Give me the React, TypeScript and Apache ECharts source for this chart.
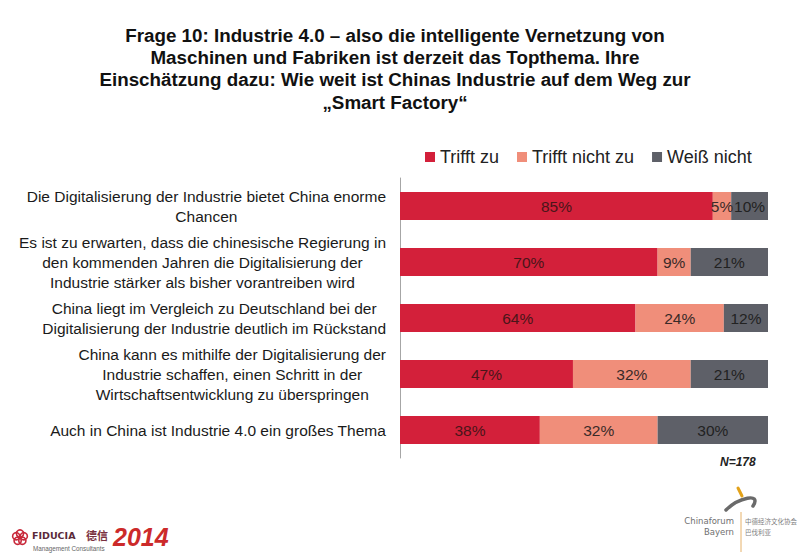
import React, { useEffect, useRef } from "react";
import * as echarts from "echarts";

const TITLE_LINES = [
  "Frage 10: Industrie 4.0 – also die intelligente Vernetzung von",
  "Maschinen und Fabriken ist derzeit das Topthema. Ihre",
  "Einschätzung dazu: Wie weit ist Chinas Industrie auf dem Weg zur",
  "„Smart Factory“",
];

const categories = [
  "Die Digitalisierung der Industrie bietet China enorme\nChancen",
  "Es ist zu erwarten, dass die chinesische Regierung in\nden kommenden Jahren die Digitalisierung der\nIndustrie stärker als bisher vorantreiben wird",
  "China liegt im Vergleich zu Deutschland bei der\nDigitalisierung der Industrie deutlich im Rückstand",
  "China kann es mithilfe der Digitalisierung der\nIndustrie schaffen, einen Schritt in der\nWirtschaftsentwicklung zu überspringen",
  "Auch in China ist Industrie 4.0 ein großes Thema",
];

const seriesNames = ["Trifft zu", "Trifft nicht zu", "Weiß nicht"];
const trifftZu = [85, 70, 64, 47, 38];
const trifftNichtZu = [5, 9, 24, 32, 32];
const weissNicht = [10, 21, 12, 21, 30];

const sampleNote = "N=178";

const FONT = "'Liberation Sans', Arial, Helvetica, sans-serif";
const COLORS = ["#D3203A", "#F08E7A", "#5E6068"];
const LABEL_COLORS = ["#4a1519", "#3a2a28", "#222222"];

export default function App() {
  const ref = useRef<HTMLDivElement>(null);

  useEffect(() => {
    document.body.style.margin = "0";
    const chart = echarts.init(ref.current!, null, { renderer: "svg" });

    const values = [trifftZu, trifftNichtZu, weissNicht];

    const series = seriesNames.map((name, i) => ({
      name,
      type: "bar",
      stack: "total",
      barWidth: "50%",
      itemStyle: { color: COLORS[i] },
      label: {
        show: true,
        position: "inside",
        formatter: "{c}%",
        fontFamily: FONT,
        fontSize: 15.5,
        color: LABEL_COLORS[i],
      },
      data: values[i],
    }));

    // petals of the little flower mark in the left logo
    const petals = [0, 1, 2, 3, 4].map((k) => {
      const a = (k * 2 * Math.PI) / 5 - Math.PI / 2;
      return {
        type: "circle",
        shape: { cx: 20 + Math.cos(a) * 4, cy: 537.5 + Math.sin(a) * 4, r: 3.6 },
        style: { fill: "none", stroke: "#c8283a", lineWidth: 1.6 },
      };
    });

    chart.setOption({
      animation: false,
      backgroundColor: "#ffffff",
      title: {
        text: TITLE_LINES.join("\n"),
        left: 390,
        top: 19,
        textAlign: "center",
        textStyle: {
          fontFamily: FONT,
          fontSize: 18.8,
          fontWeight: "bold",
          lineHeight: 22.3,
          color: "#111111",
        },
      },
      legend: {
        data: seriesNames,
        left: 420,
        top: 143,
        icon: "rect",
        itemWidth: 10,
        itemHeight: 10,
        itemGap: 18,
        textStyle: { fontFamily: FONT, fontSize: 18, color: "#222222" },
      },
      grid: { left: 400, right: 32, top: 178, height: 280, containLabel: false },
      xAxis: {
        type: "value",
        min: 0,
        max: 100,
        show: false,
      },
      yAxis: {
        type: "category",
        inverse: true,
        data: categories,
        axisLine: { show: true, lineStyle: { color: "#a6a6a6", width: 1 } },
        axisTick: { show: false },
        axisLabel: {
          margin: 14,
          align: "right",
          formatter: (v: string) =>
            v
              .split("\n")
              .map((l) => `{c|${l}}`)
              .join("\n"),
          rich: {
            c: {
              align: "center",
              fontFamily: FONT,
              fontSize: 15.5,
              lineHeight: 20,
              color: "#1a1a1a",
            },
          },
        },
      },
      series,
      graphic: [
        {
          type: "text",
          x: 720,
          y: 456,
          style: {
            text: sampleNote,
            fontFamily: FONT,
            fontSize: 12,
            fontStyle: "italic",
            fontWeight: "bold",
            fill: "#222222",
          },
        },
        // FIDUCIA logo
        ...petals,
        {
          type: "text",
          x: 32,
          y: 530,
          style: {
            text: "FIDUCIA",
            fontFamily: "'DejaVu Sans', sans-serif",
            fontWeight: "bold",
            fontSize: 9.5,
            fill: "#5a2a3a",
          },
        },
        {
          type: "text",
          x: 86,
          y: 529,
          style: {
            text: "德信",
            fontFamily: "'Noto Sans CJK SC', sans-serif",
            fontWeight: "bold",
            fontSize: 11,
            fill: "#7a3040",
          },
        },
        {
          type: "text",
          x: 33,
          y: 545,
          style: {
            text: "Management Consultants",
            fontFamily: FONT,
            fontSize: 6.3,
            fill: "#666666",
          },
        },
        {
          type: "text",
          x: 113,
          y: 524,
          style: {
            text: "2014",
            fontFamily: FONT,
            fontWeight: "bold",
            fontStyle: "italic",
            fontSize: 25,
            fill: "#cc2a2a",
          },
        },
        // Chinaforum Bayern logo
        {
          type: "bezierCurve",
          shape: { x1: 726, y1: 510, x2: 753, y2: 506, cpx1: 738, cpy1: 498, cpx2: 762, cpy2: 492 },
          style: { stroke: "#6a6a6a", lineWidth: 3.5, fill: "none", lineCap: "round" },
        },
        {
          type: "line",
          shape: { x1: 738, y1: 488, x2: 742, y2: 496 },
          style: { stroke: "#e3a21a", lineWidth: 3, lineCap: "round" },
        },
        {
          type: "text",
          x: 734,
          y: 515,
          style: {
            text: "Chinaforum\nBayern",
            align: "right",
            fontFamily: "'DejaVu Sans', sans-serif",
            fontSize: 8.5,
            lineHeight: 11,
            fill: "#707070",
          },
        },
        {
          type: "line",
          shape: { x1: 741, y1: 512, x2: 741, y2: 552 },
          style: { stroke: "#e6b26a", lineWidth: 1 },
        },
        {
          type: "text",
          x: 745,
          y: 515,
          style: {
            text: "中德经济文化协会\n巴伐利亚",
            fontFamily: "'Noto Sans CJK SC', sans-serif",
            fontSize: 6.5,
            lineHeight: 11,
            fill: "#808080",
          },
        },
      ],
    });

    return () => chart.dispose();
  }, []);

  return (
    <div
      ref={ref}
      style={{ position: "absolute", left: 0, top: 0, width: 800, height: 555 }}
    />
  );
}
